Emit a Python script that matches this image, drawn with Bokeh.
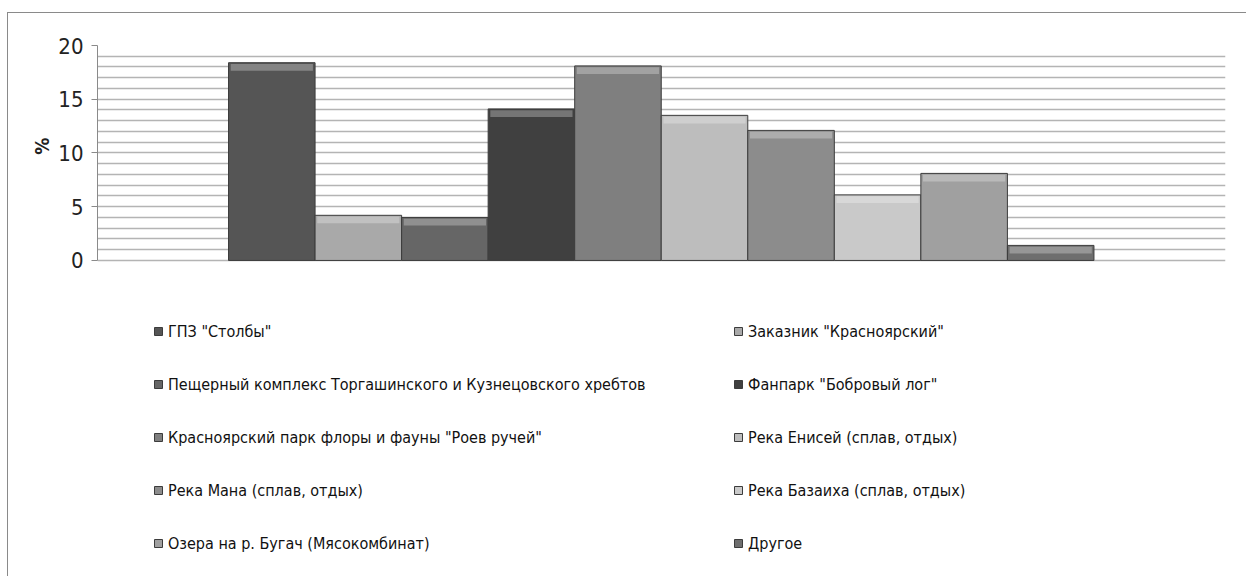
from bokeh.plotting import figure
from bokeh.models import Legend, LegendItem, FixedTicker, Range1d
from bokeh.embed import file_html
from bokeh.resources import INLINE

# ---- data ----
categories = [
    'ГПЗ "Столбы"',
    'Заказник "Красноярский"',
    'Пещерный комплекс Торгашинского и Кузнецовского хребтов',
    'Фанпарк "Бобровый лог"',
    'Красноярский парк флоры и фауны "Роев ручей"',
    'Река Енисей (сплав, отдых)',
    'Река Мана (сплав, отдых)',
    'Река Базаиха (сплав, отдых)',
    'Озера на р. Бугач (Мясокомбинат)',
    'Другое',
]
values = [18.4, 4.2, 4.0, 14.1, 18.1, 13.5, 12.1, 6.1, 8.1, 1.4]
colors = ["#555555", "#a9a9a9", "#666666", "#404040", "#7f7f7f",
          "#bdbdbd", "#8c8c8c", "#c9c9c9", "#a0a0a0", "#6e6e6e"]
y_ticks = [0, 5, 10, 15, 20]
grid_ticks = list(range(0, 21))

FONT = "DejaVu Sans Condensed"

# lower part of the y range leaves room for the legend inside the frame
p = figure(width=1239, height=564, output_backend="svg", toolbar_location=None,
           x_range=Range1d(-2.014, 11.02), y_range=Range1d(-29.5, 20),
           x_axis_location=None, title="%", title_location="left",
           min_border_left=89, min_border_right=22, min_border_top=32,
           min_border_bottom=0, tools="")
p.styles = {"border-top": "1px solid #8a8a8a", "border-left": "1px solid #8a8a8a",
            "margin-top": "12px", "margin-left": "7px"}
p.outline_line_color = None
p.background_fill_color = "white"

p.title.align = "right"
p.title.offset = 92
p.title.text_font = FONT
p.title.text_font_size = "19px"
p.title.text_font_style = "bold"
p.title.text_color = "#222222"
p.title.standoff = 6

p.xgrid.visible = False
p.ygrid.ticker = FixedTicker(ticks=grid_ticks)
p.ygrid.grid_line_color = "#b4b4b4"
p.ygrid.grid_line_width = 1.5

renderers = []
for i, (v, c) in enumerate(zip(values, colors)):
    r = p.vbar(x=[i], top=[v], bottom=0, width=1.0, fill_color=c,
               line_color="#3c3c3c", line_width=1)
    renderers.append(r)
    # bevel highlight along the top of each bar
    p.vbar(x=[i], top=[v - 0.12], bottom=v - 0.75, width=0.95,
           fill_color="white", fill_alpha=0.28, line_color=None)

ya = p.yaxis[0]
ya.ticker = FixedTicker(ticks=y_ticks)
ya.bounds = (0, 20)
ya.axis_line_color = "#8a8a8a"
ya.major_tick_line_color = "#8a8a8a"
ya.major_tick_out = 6
ya.major_tick_in = 0
ya.minor_tick_line_color = None
ya.major_label_text_font = FONT
ya.major_label_text_font_size = "22px"
ya.major_label_text_color = "#222222"
ya.major_label_standoff = 8

left_items = [LegendItem(label=categories[i], renderers=[renderers[i]]) for i in range(0, 10, 2)]
right_items = [LegendItem(label=categories[i], renderers=[renderers[i]]) for i in range(1, 10, 2)]

for items, vx in ((left_items, 56), (right_items, 636)):
    lg = Legend(items=items, location=(vx, 24), orientation="vertical",
                padding=0, margin=0, spacing=33, label_height=20,
                glyph_width=10, glyph_height=10, label_standoff=5,
                label_text_font=FONT, label_text_font_size="16px",
                label_text_color="#111111", border_line_color=None,
                background_fill_alpha=0)
    p.add_layout(lg, "center")

open("out.html", "w").write(file_html(p, INLINE))
